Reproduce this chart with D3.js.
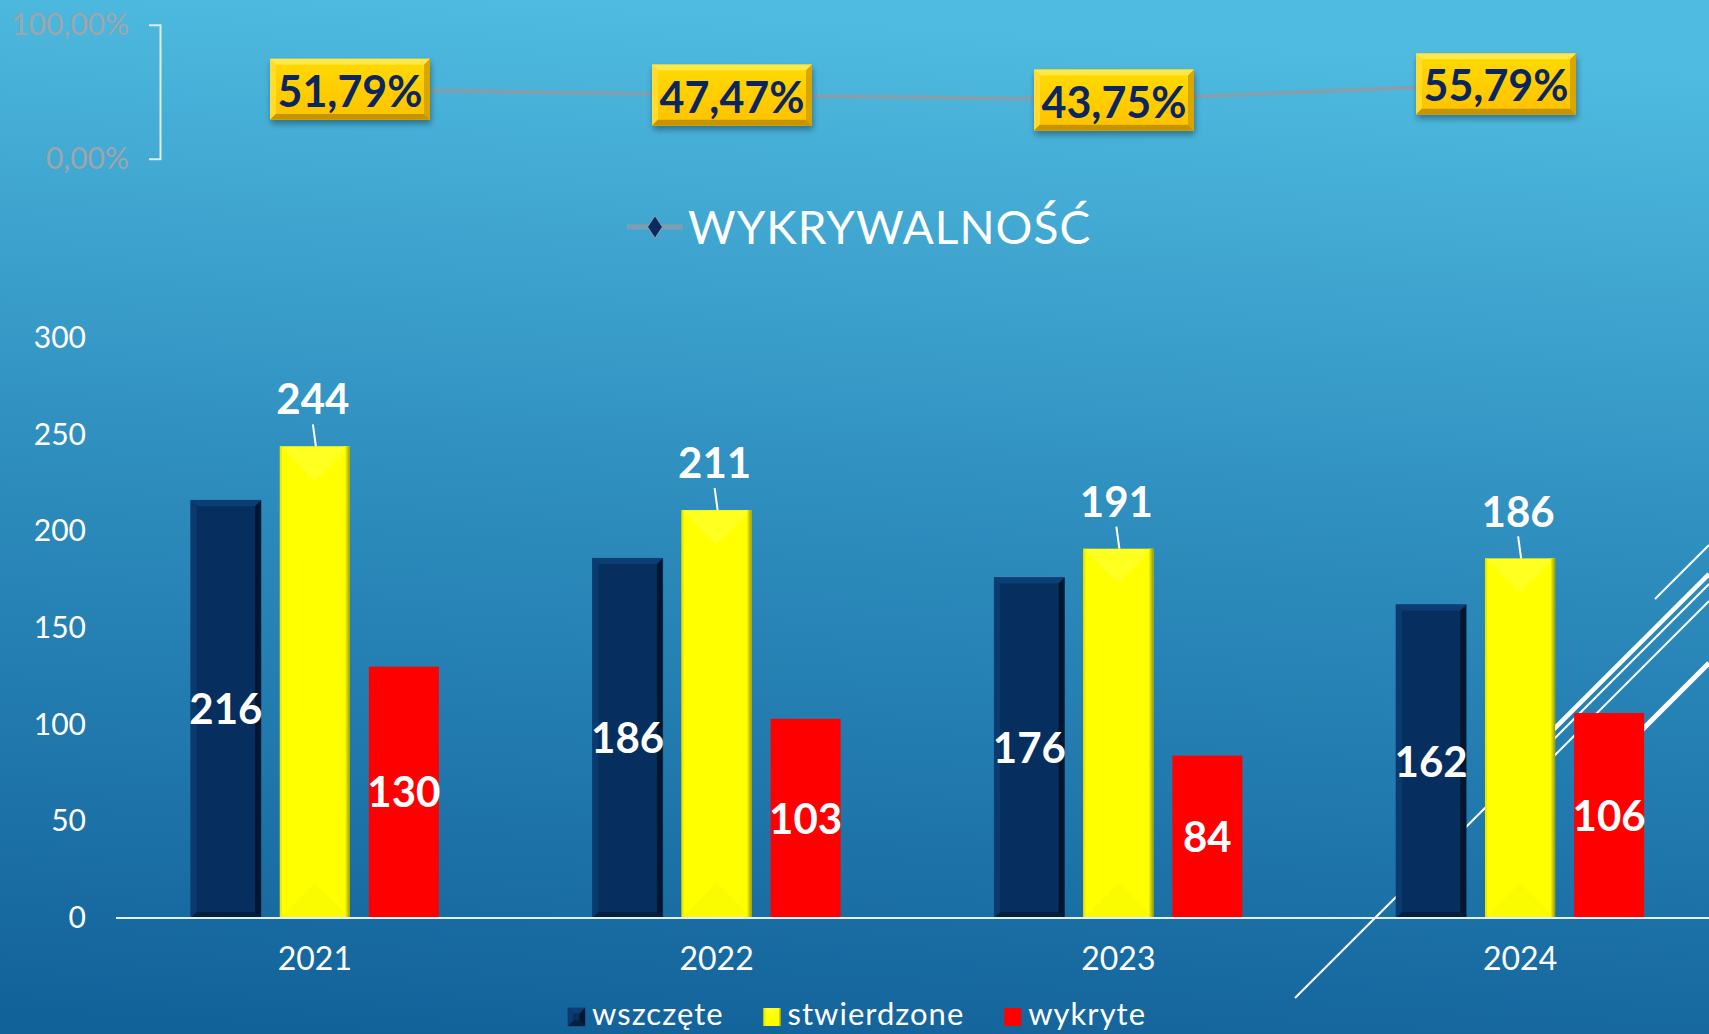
<!DOCTYPE html>
<html>
<head>
<meta charset="utf-8">
<script src="https://cdn.jsdelivr.net/npm/d3@7"></script>
<style>
body { margin: 0; overflow: hidden; }
text { font-family: Lato, "Noto Sans", sans-serif; }
</style>
</head>
<body>
<div id="chart"></div>
<script>
// data
var years = ["2021", "2022", "2023", "2024"];
var wszczete = [216, 186, 176, 162];
var stwierdzone = [244, 211, 191, 186];
var wykryte = [130, 103, 84, 106];
var wykrywalnosc = [51.79, 47.47, 43.75, 55.79];
var seriesNames = ["wszczęte", "stwierdzone", "wykryte"];
var barTicks = [0, 50, 100, 150, 200, 250, 300];
var pctTicks = [0, 100];
var lineName = "WYKRYWALNOŚĆ";

var width = 1709,
    height = 1034;

var svg = d3.select("#chart").append("svg")
    .attr("width", width)
    .attr("height", height);

var defs = svg.append("defs");

var bg = defs.append("linearGradient").attr("id", "bg")
    .attr("x1", 0.3).attr("y1", 0).attr("x2", 0.2).attr("y2", 1);
bg.append("stop").attr("offset", "0%").attr("stop-color", "#4fbbe0");
bg.append("stop").attr("offset", "45%").attr("stop-color", "#2f8fbf");
bg.append("stop").attr("offset", "100%").attr("stop-color", "#12629a");

var gold = defs.append("linearGradient").attr("id", "gold")
    .attr("x1", 0).attr("y1", 0).attr("x2", 0).attr("y2", 1);
gold.append("stop").attr("offset", "0%").attr("stop-color", "#ffd800");
gold.append("stop").attr("offset", "100%").attr("stop-color", "#ffc400");

var yedge = defs.append("linearGradient").attr("id", "yedge")
    .attr("x1", 0).attr("y1", 0).attr("x2", 1).attr("y2", 0);
yedge.append("stop").attr("offset", "0%").attr("stop-color", "#ffff00");
yedge.append("stop").attr("offset", "100%").attr("stop-color", "#9a9a00");

var shadow = defs.append("filter").attr("id", "shadow")
    .attr("x", "-20%").attr("y", "-20%").attr("width", "140%").attr("height", "160%");
shadow.append("feDropShadow")
    .attr("dx", 1).attr("dy", 4).attr("stdDeviation", 3)
    .attr("flood-color", "#000").attr("flood-opacity", 0.35);

svg.append("rect")
    .attr("width", width)
    .attr("height", height)
    .attr("fill", "url(#bg)");

// decorative diagonal lines (theme background)
var deco = [
    {x1: 1295, y1: 998, x2: 1709, y2: 584, w: 2},
    {x1: 1500, y1: 783, x2: 1709, y2: 574, w: 4.5},
    {x1: 1500, y1: 810, x2: 1709, y2: 601, w: 2},
    {x1: 1600, y1: 772, x2: 1709, y2: 663, w: 5},
    {x1: 1655, y1: 599, x2: 1709, y2: 545, w: 2}
];
svg.selectAll(".deco").data(deco).enter().append("line")
    .attr("class", "deco")
    .attr("x1", d => d.x1).attr("y1", d => d.y1)
    .attr("x2", d => d.x2).attr("y2", d => d.y2)
    .attr("stroke", "#fff")
    .attr("stroke-width", d => d.w);

// ---------- bar chart ----------
var y = d3.scaleLinear().domain([0, 300]).range([918, 338]);
var x0 = d3.scaleBand().domain(years).range([114, 1721]);
var x1 = d3.scaleBand().domain(seriesNames).range([0, 248]).paddingInner(19 / 89);
var groupOff = (x0.bandwidth() - 248) / 2;

var barData = [];
years.forEach(function(yr, i) {
    barData.push({year: yr, s: seriesNames[0], v: wszczete[i]});
    barData.push({year: yr, s: seriesNames[1], v: stwierdzone[i]});
    barData.push({year: yr, s: seriesNames[2], v: wykryte[i]});
});

function bevel(g, x, yy, w, h, b, cols) {
    g.append("polygon").attr("points", [[x, yy], [x + w, yy], [x + w - b, yy + b], [x + b, yy + b]].join(" ")).attr("fill", cols[0]);
    g.append("polygon").attr("points", [[x, yy], [x + b, yy + b], [x + b, yy + h - b], [x, yy + h]].join(" ")).attr("fill", cols[1]);
    g.append("polygon").attr("points", [[x + w, yy], [x + w, yy + h], [x + w - b, yy + h - b], [x + w - b, yy + b]].join(" ")).attr("fill", cols[2]);
    g.append("polygon").attr("points", [[x, yy + h], [x + w, yy + h], [x + w - b, yy + h - b], [x + b, yy + h - b]].join(" ")).attr("fill", cols[3]);
}

function drawBar(g, s, x, yy, w, h) {
    if (s == seriesNames[0]) {
        g.append("rect").attr("x", x).attr("y", yy).attr("width", w).attr("height", h)
            .attr("fill", "#062f60").attr("stroke", "#0f4478").attr("stroke-width", 1);
        var b = Math.min(6, w / 3);
        bevel(g, x, yy, w, h, b, ["#0c3d73", "#0a3a6e", "#021630", "#03203f"]);
        g.append("rect").attr("x", x + b).attr("y", yy + b).attr("width", w - 2 * b).attr("height", h - 2 * b)
            .attr("fill", "#062f60");
    } else if (s == seriesNames[1]) {
        g.append("rect").attr("x", x).attr("y", yy).attr("width", w).attr("height", h)
            .attr("fill", "#ffff00");
        var t = w / 2;
        g.append("polygon").attr("points", [[x, yy], [x + w, yy], [x + w - t, yy + t], [x + t, yy + t]].join(" "))
            .attr("fill", "#ffff90").attr("opacity", 0.22);
        g.append("polygon").attr("points", [[x, yy + h], [x + w, yy + h], [x + w - t, yy + h - t], [x + t, yy + h - t]].join(" "))
            .attr("fill", "#e8e800").attr("opacity", 0.2);
        var e = Math.max(2, w * 0.07);
        g.append("rect").attr("x", x + w - e).attr("y", yy).attr("width", e).attr("height", h)
            .attr("fill", "url(#yedge)");
        g.append("rect").attr("x", x).attr("y", yy).attr("width", 2).attr("height", h)
            .attr("fill", "#eaea00");
    } else {
        g.append("rect").attr("x", x).attr("y", yy).attr("width", w).attr("height", h)
            .attr("fill", "#ff0000");
    }
}

var bars = svg.append("g").attr("class", "bars");
barData.forEach(function(d) {
    var bx = x0(d.year) + groupOff + x1(d.s);
    drawBar(bars, d.s, bx, y(d.v), x1.bandwidth(), y(0) - y(d.v));
});

// y axis
var yAxis = svg.append("g")
    .attr("transform", "translate(86,0)")
    .call(d3.axisLeft(y).tickValues(barTicks).tickSize(0).tickPadding(0));
yAxis.select(".domain").remove();
yAxis.selectAll("text")
    .attr("fill", "#fff")
    .style("font-size", "30px")
    .style("font-family", "Lato, sans-serif");

// x axis
var xAxis = svg.append("g")
    .attr("transform", "translate(0,918)")
    .call(d3.axisBottom(x0).tickSize(0).tickSizeOuter(0).tickPadding(29));
xAxis.select(".domain")
    .attr("d", "M116,0H1709")
    .attr("stroke", "#e6f0f6")
    .attr("stroke-width", 2);
xAxis.selectAll("text")
    .attr("fill", "#fff")
    .style("font-size", "32px")
    .style("font-family", "Lato, sans-serif");

// labels inside bars
var labels = svg.append("g").attr("class", "labels");
barData.forEach(function(d) {
    var cx = x0(d.year) + groupOff + x1(d.s) + x1.bandwidth() / 2;
    if (d.s == seriesNames[1]) {
        var top = y(d.v);
        labels.append("line")
            .attr("x1", cx - 2).attr("y1", top - 22)
            .attr("x2", cx + 1).attr("y2", top)
            .attr("stroke", "#fff").attr("stroke-width", 2);
        labels.append("text")
            .attr("x", cx - 2)
            .attr("y", top - 47)
            .attr("dy", "0.36em")
            .attr("text-anchor", "middle")
            .attr("fill", "#fff")
            .style("font-size", "42px")
            .style("font-weight", "bold")
            .text(d.v);
    } else {
        labels.append("text")
            .attr("x", cx)
            .attr("y", (y(d.v) + y(0)) / 2)
            .attr("dy", "0.36em")
            .attr("text-anchor", "middle")
            .attr("fill", "#fff")
            .style("font-size", "42px")
            .style("font-weight", "bold")
            .text(d.v);
    }
});

// legend bottom
var legend = svg.append("g").attr("class", "legend");
var lx = 568;
seriesNames.forEach(function(s, i) {
    var g = legend.append("g");
    drawBar(g, s, lx, 1008, 17, 18);
    var t = g.append("text")
        .attr("x", lx + 24)
        .attr("y", 1025)
        .attr("fill", "#fff")
        .style("font-size", "31px")
        .style("letter-spacing", "1px")
        .text(s);
    lx = lx + 24 + t.node().getComputedTextLength() + 40;
});

// ---------- line chart (wykrywalność) ----------
var xl = d3.scaleBand().domain(years).range([159, 1687]);
var yl = d3.scaleLinear().domain([0, 100]).range([158.7, 24.7]);

var pAxis = svg.append("g")
    .attr("transform", "translate(160,0)")
    .call(d3.axisLeft(yl).tickValues(pctTicks).tickSize(0).tickSizeOuter(11).tickPadding(31)
        .tickFormat(d => d.toFixed(2).replace(".", ",") + "%"));
pAxis.select(".domain")
    .attr("stroke", "#d9eef7")
    .attr("stroke-width", 2);
pAxis.selectAll("text")
    .attr("fill", "#9fa6ab")
    .style("font-size", "30px")
    .style("font-family", "Lato, sans-serif");

var line = d3.line()
    .x((d, i) => xl(years[i]) + xl.bandwidth() / 2)
    .y(d => yl(d));

svg.append("path")
    .datum(wykrywalnosc)
    .attr("d", line)
    .attr("fill", "none")
    .attr("stroke", "#8e9ba5")
    .attr("stroke-opacity", 0.8)
    .attr("stroke-width", 4);

var boxW = 160, boxH = 61;
wykrywalnosc.forEach(function(v, i) {
    var cx = xl(years[i]) + xl.bandwidth() / 2,
        cy = yl(v);
    var g = svg.append("g").attr("filter", "url(#shadow)");
    var bx = cx - boxW / 2, by = cy - boxH / 2;
    g.append("rect").attr("x", bx).attr("y", by).attr("width", boxW).attr("height", boxH)
        .attr("fill", "url(#gold)");
    bevel(g, bx, by, boxW, boxH, 6, ["#ffe94a", "#ffdc2e", "#d9a600", "#c69400"]);
    g.append("rect").attr("x", bx + 6).attr("y", by + 6).attr("width", boxW - 12).attr("height", boxH - 12)
        .attr("fill", "url(#gold)");
    svg.append("text")
        .attr("x", cx)
        .attr("y", cy + 2)
        .attr("dy", "0.36em")
        .attr("text-anchor", "middle")
        .attr("fill", "#0b2560")
        .style("font-size", "43px")
        .style("font-weight", "bold")
        .text(v.toFixed(2).replace(".", ",") + "%");
});

// legend for line
svg.append("line")
    .attr("x1", 627).attr("y1", 227).attr("x2", 683).attr("y2", 227)
    .attr("stroke", "#7f9db2").attr("stroke-width", 5);
svg.append("path")
    .attr("d", d3.symbol().type(d3.symbolDiamond).size(150)())
    .attr("transform", "translate(655,227) scale(1.15,1)")
    .attr("fill", "#0a2c5c")
    .attr("stroke", "#7f9db2")
    .attr("stroke-width", 1);
svg.append("text")
    .attr("x", 688)
    .attr("y", 227)
    .attr("dy", "0.36em")
    .attr("fill", "#fff")
    .style("font-size", "46px")
    .style("letter-spacing", "1px")
    .text(lineName);
</script>
</body>
</html>
